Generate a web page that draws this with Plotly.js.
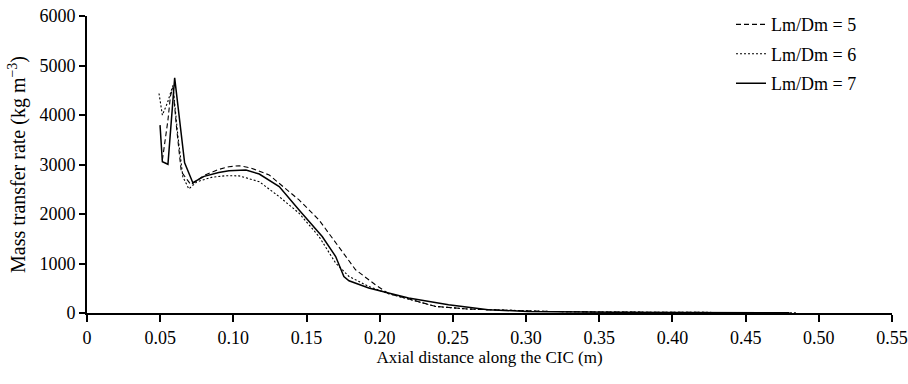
<!DOCTYPE html>
<html>
<head>
<meta charset="utf-8">
<script src="https://cdn.plot.ly/plotly-3.0.1.min.js"></script>
<style>html,body{margin:0;padding:0;background:#fff;}#chart{width:908px;height:384px;}</style>
</head>
<body>
<div id="chart"></div>
<script>
// Lm/Dm = 5 (dashed)
const x5 = [0.0515, 0.0537, 0.0553, 0.0570, 0.0587, 0.0610, 0.0644, 0.0710, 0.080, 0.090, 0.097, 0.104, 0.112, 0.1245, 0.1449, 0.1585, 0.172, 0.1835, 0.197, 0.206, 0.220, 0.238, 0.260, 0.2878, 0.315, 0.350, 0.400, 0.450, 0.480];
const y5 = [3090, 3560, 3897, 4380, 4560, 3800, 2855, 2590, 2780, 2900, 2956, 2975, 2930, 2788, 2284, 1881, 1343, 873, 571, 390, 282, 134, 80, 52, 32, 20, 12, 8, 5];
// Lm/Dm = 6 (dotted)
const x6 = [0.0492, 0.0515, 0.0550, 0.0587, 0.0620, 0.0655, 0.0696, 0.075, 0.085, 0.0948, 0.104, 0.1177, 0.1313, 0.1449, 0.1585, 0.1699, 0.179, 0.1925, 0.206, 0.220, 0.238, 0.260, 0.2878, 0.315, 0.350, 0.400, 0.450, 0.485];
const y6 = [4435, 3998, 4250, 4600, 3600, 2750, 2506, 2650, 2740, 2774, 2770, 2653, 2351, 2016, 1545, 1008, 738, 536, 390, 282, 134, 80, 52, 32, 20, 12, 8, 5];
// Lm/Dm = 7 (solid)
const x7 = [0.0499, 0.0515, 0.0553, 0.0599, 0.0667, 0.0723, 0.080, 0.090, 0.097, 0.1086, 0.1177, 0.1313, 0.1449, 0.1607, 0.1699, 0.1755, 0.179, 0.1925, 0.206, 0.2197, 0.247, 0.274, 0.301, 0.3286, 0.360, 0.400, 0.440, 0.480];
const y7 = [3796, 3056, 3004, 4750, 3036, 2633, 2760, 2840, 2875, 2889, 2808, 2553, 2083, 1545, 1141, 738, 651, 504, 403, 302, 167, 67, 32, 20, 15, 10, 7, 5];

const seriesNames = ["Lm/Dm = 5", "Lm/Dm = 6", "Lm/Dm = 7"];
const xTickVals = [0, 0.05, 0.10, 0.15, 0.20, 0.25, 0.30, 0.35, 0.40, 0.45, 0.50, 0.55];
const xTickText = ["0", "0.05", "0.10", "0.15", "0.20", "0.25", "0.30", "0.35", "0.40", "0.45", "0.50", "0.55"];
const yTickVals = [0, 1000, 2000, 3000, 4000, 5000, 6000];
const yTickText = ["0", "1000", "2000", "3000", "4000", "5000", "6000"];

const fam = "Liberation Serif, Times New Roman, serif";
const tickFont = {family: fam, size: 18, color: "#000"};
const xTitleFont = {family: fam, size: 17, color: "#000"};
const yTitleFont = {family: fam, size: 20, color: "#000"};
const legendFont = {family: fam, size: 18, color: "#000"};

const traces = [
  {x: x5, y: y5, name: seriesNames[0], legendgroup: "a", mode: "lines", line: {color: "#000", width: 1.1, dash: "5px,3px"}},
  {x: x6, y: y6, name: seriesNames[1], legendgroup: "b", mode: "lines", line: {color: "#000", width: 1.1, dash: "2px,2px"}},
  {x: x7, y: y7, name: seriesNames[2], legendgroup: "c", mode: "lines", line: {color: "#000", width: 1.5}}
];

const layout = {
  width: 908, height: 384,
  margin: {l: 87, r: 16, t: 16, b: 71, autoexpand: false},
  paper_bgcolor: "#fff", plot_bgcolor: "#fff",
  font: tickFont,
  showlegend: true,
  legend: {x: 0.8, xanchor: "left", y: 1.033, yanchor: "top", bgcolor: "rgba(0,0,0,0)", font: legendFont,
           traceorder: "grouped", tracegroupgap: 3, itemwidth: 30},
  xaxis: {
    range: [0, 0.55], tickvals: xTickVals, ticktext: xTickText,
    showgrid: false, zeroline: false, showline: true, linecolor: "#000", linewidth: 2,
    ticks: "outside", ticklen: 7, tickwidth: 2, tickcolor: "#000",
    tickfont: tickFont, ticklabeloverflow: "allow", automargin: false,
    title: {text: "Axial distance along the CIC (m)", font: xTitleFont, standoff: 5}
  },
  yaxis: {
    range: [0, 6000], tickvals: yTickVals, ticktext: yTickText,
    showgrid: false, zeroline: false, showline: true, linecolor: "#000", linewidth: 2,
    ticks: "outside", ticklen: 6, tickwidth: 2, tickcolor: "#000",
    tickfont: tickFont, automargin: false,
    title: {text: "Mass transfer rate (kg m<sup>−3</sup>)", font: yTitleFont, standoff: 8}
  }
};

Plotly.newPlot("chart", traces, layout, {displayModeBar: false, staticPlot: true});
</script>
</body>
</html>
